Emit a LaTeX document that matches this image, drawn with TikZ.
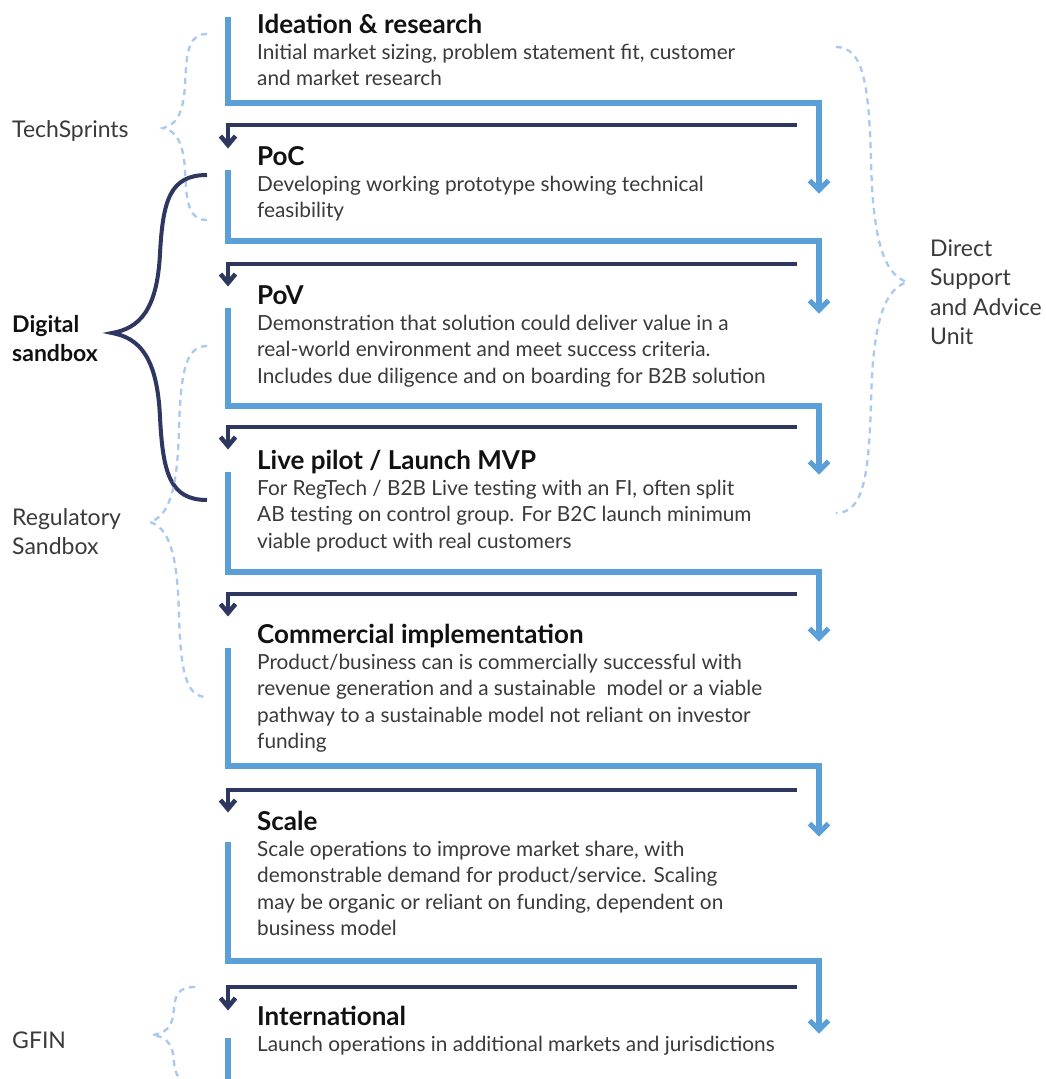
\documentclass[tikz,border=0pt]{standalone}
\usepackage{fontspec}
\setmainfont{Lato}
\usetikzlibrary{arrows.meta}
\definecolor{flowblue}{HTML}{5B9FD8}
\definecolor{navyline}{HTML}{2E3760}
\definecolor{dashblue}{HTML}{A9C9EE}
\definecolor{bodygrey}{HTML}{3A3A3A}
\definecolor{titleblack}{HTML}{111111}
\newcommand\titlefont{\fontsize{26}{26}\selectfont\bfseries\color{titleblack}}
\newcommand\bodyfont{\fontsize{20.8}{26}\selectfont\color{bodygrey}}
\newcommand\labelfont{\fontsize{23}{29}\selectfont\color{bodygrey}}
\newcommand\stagetext[2]{\vtop{\baselineskip=26.4pt\lineskiplimit=-30pt\lineskip=0pt
  \hbox{\titlefont #1}\halign{{\bodyfont##}\hfil\cr#2\crcr}}}
\newcommand\labeltext[1]{\vtop{\baselineskip=29.5pt\lineskiplimit=-30pt\lineskip=0pt
  \halign{{\labelfont##}\hfil\cr#1\crcr}}}
% brace: #1 options, #2 xe, #3 y1, #4 xt, #5 ym, #6 y2
\newcommand\drawbrace[6]{%
  \pgfmathsetmacro\bd{#2-#4}%
  \pgfmathsetmacro\bxm{#4+0.505*\bd}%
  \pgfmathsetmacro\bca{#2-0.39*\bd}%
  \pgfmathsetmacro\bcb{\bxm+0.03*\bd}%
  \pgfmathsetmacro\bcc{\bxm-0.03*\bd}%
  \pgfmathsetmacro\bce{#4+0.29*\bd}%
  \pgfmathsetmacro\bha{#5-#3}%
  \pgfmathsetmacro\bhb{#6-#5}%
  \pgfmathsetmacro\bya{#3+0.16*\bha}%
  \pgfmathsetmacro\byb{#3+0.5*\bha}%
  \pgfmathsetmacro\byc{\byb+0.354*\bha}%
  \pgfmathsetmacro\byd{#5-0.03*\bha}%
  \pgfmathsetmacro\bze{#5+0.03*\bhb}%
  \pgfmathsetmacro\bzf{#5+0.146*\bhb}%
  \pgfmathsetmacro\bzg{#5+0.5*\bhb}%
  \pgfmathsetmacro\bzh{#6-0.16*\bhb}%
  \draw[#1] (#2,#3) .. controls (\bca,#3) and (\bcb,\bya) .. (\bxm,\byb)
    .. controls (\bcc,\byc) and (\bce,\byd) .. (#4,#5)
    .. controls (\bce,\bze) and (\bcc,\bzf) .. (\bxm,\bzg)
    .. controls (\bcb,\bzh) and (\bca,#6) .. (#2,#6);
}
% downward chevron tip: #1 style, #2 coordinate name of tip, #3 half width, #4 length
\newcommand\downtip[4]{%
  \draw[#1] ([shift={(-#3,-#4)}]#2) -- (#2) -- ([shift={(#3,-#4)}]#2);
}
\tikzset{
  flow/.style={draw=flowblue, line width=5.3pt, line join=miter},
  bluetip/.style={draw=flowblue, line width=5pt, line join=miter, miter limit=4},
  back/.style={draw=navyline, line width=4.8pt, line join=miter},
  navytip/.style={draw=navyline, line width=4.5pt, line join=miter, miter limit=4},
  dbrace/.style={draw=dashblue, line width=2.3pt, dash pattern=on 6pt off 5pt},
  sbrace/.style={draw=navyline, line width=4pt},
  txt/.style={inner sep=0pt, anchor=base west},
}
\begin{document}
\begin{tikzpicture}[x=1pt,y=-1pt]
\useasboundingbox[fill=white] (0,0) rectangle (1045,1079);

% forward (blue) flows: tips
\coordinate (f1) at (819,190);
\coordinate (f2) at (819,310);
\coordinate (f3) at (819,471);
\coordinate (f4) at (819,638);
\coordinate (f5) at (819,833);
\coordinate (f6) at (819,1030);
\draw[flow] (228,17) -- (228,103) -- (819,103) -- (f1);
\draw[flow] (228,170) -- (228,241) -- (819,241) -- (f2);
\draw[flow] (228,308) -- (228,406) -- (819,406) -- (f3);
\draw[flow] (228,472) -- (228,572) -- (819,572) -- (f4);
\draw[flow] (228,648) -- (228,766) -- (819,766) -- (f5);
\draw[flow] (228,842) -- (228,961) -- (819,961) -- (f6);
\draw[flow] (228,1038) -- (228,1079);
\foreach \t in {f1,f2,f3,f4,f5,f6} {\downtip{bluetip}{\t}{9.5}{9.5}}

% return (navy) flows
\coordinate (b1) at (228,145);
\coordinate (b2) at (228,283);
\coordinate (b3) at (228,446);
\coordinate (b4) at (228,613);
\coordinate (b5) at (228,809);
\coordinate (b6) at (228,1007);
\draw[back] (797,125) -- (228,125) -- (b1);
\draw[back] (797,264) -- (228,264) -- (b2);
\draw[back] (797,427) -- (228,427) -- (b3);
\draw[back] (797,594) -- (228,594) -- (b4);
\draw[back] (797,790) -- (228,790) -- (b5);
\draw[back] (797,987) -- (228,987) -- (b6);
\foreach \t in {b1,b2,b3,b4,b5,b6} {\downtip{navytip}{\t}{7.5}{9}}

% stage texts
\node[txt] (s1) at (257,33) {\stagetext{Ideation \& research}{Initial market sizing, problem statement fit, customer\cr and market research}};
\node[txt] (s2) at (257,165) {\stagetext{PoC}{Developing working prototype showing technical\cr feasibility}};
\node[txt] (s3) at (257,304) {\stagetext{PoV}{Demonstration that solution could deliver value in a\cr real-world environment and meet success criteria.\cr Includes due diligence and on boarding for B2B solution}};
\node[txt] (s4) at (257,469) {\stagetext{Live pilot / Launch MVP}{For RegTech / B2B Live testing with an FI, often split\cr AB testing on control group. For B2C launch minimum\cr viable product with real customers}};
\node[txt] (s5) at (257,643) {\stagetext{Commercial implementation}{Product/business can is commercially successful with\cr revenue generation and a sustainable\ \ model or a viable\cr pathway to a sustainable model not reliant on investor\cr funding}};
\node[txt] (s6) at (257,830) {\stagetext{Scale}{Scale operations to improve market share, with\cr demonstrable demand for product/service. Scaling\cr may be organic or reliant on funding, dependent on\cr business model}};
\node[txt] (s7) at (257,1025) {\stagetext{International}{Launch operations in additional markets and jurisdictions}};

% braces
\drawbrace{dbrace}{207}{34}{163}{128}{220}
\drawbrace{sbrace}{207}{175}{112}{333}{500}
\drawbrace{dbrace}{207}{346}{150}{522}{697}
\drawbrace{dbrace}{195}{987}{152}{1035}{1083}
\drawbrace{dbrace}{836}{47}{907}{282}{513}

% side labels
\node[txt] (lts) at (12,137) {\labeltext{TechSprints}};
\node[txt] (lds) at (12,332) {\labeltext{\bfseries\color{titleblack}Digital\cr \bfseries\color{titleblack}sandbox}};
\node[txt] (lrs) at (12,525) {\labeltext{Regulatory\cr Sandbox}};
\node[txt] (lgf) at (12,1048) {\labeltext{GFIN}};
\node[txt] (ldsa) at (930,256) {\labeltext{Direct\cr Support\cr and Advice\cr Unit}};
\end{tikzpicture}
\end{document}
